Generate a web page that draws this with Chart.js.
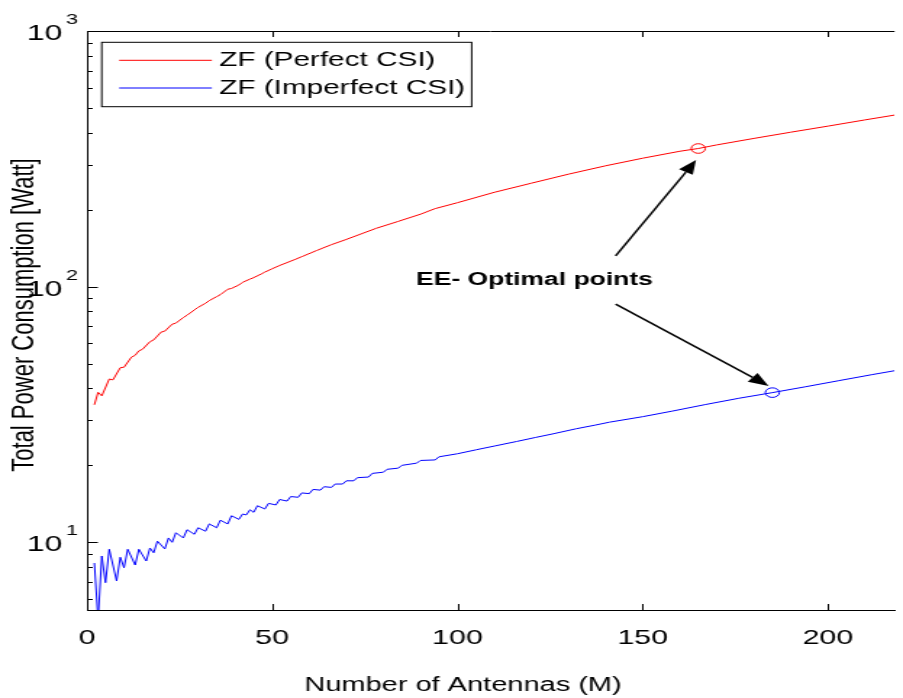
<!DOCTYPE html>
<html>
<head>
<meta charset="utf-8">
<title>Total Power Consumption vs Number of Antennas</title>
<script src="https://cdn.jsdelivr.net/npm/chart.js@4.4.1/dist/chart.umd.min.js"></script>
<style>
  html, body { margin: 0; padding: 0; background: #fff; }
</style>
</head>
<body>
<!-- la figure d'origine est étirée horizontalement : on dessine étroit puis on élargit via le style inline -->
<canvas id="graphe" width="623" height="698" style="display:block;width:903px;height:698px"></canvas>
<script>
// ---- DONNÉES ----
const antennesParfait = [2, 3, 4, 6, 7, 9, 10, 12, 13, 14, 15, 17, 18, 20, 21, 23, 24, 26, 27, 29, 30, 32, 33, 35, 36, 38, 39, 41, 42, 44, 45, 47, 48, 50, 52, 56, 58, 62, 66, 70, 78, 84, 90, 94, 100, 110, 120, 130, 140, 150, 160, 165, 170, 180, 190, 200, 210, 218]
const puissanceParfait = [34.5, 38.6, 37.4, 43.5, 43.2, 48.2, 48.4, 53.0, 53.9, 56.1, 56.9, 60.9, 61.9, 66.4, 67.0, 71.3, 72.0, 75.7, 77.3, 81.1, 83.0, 86.1, 88.2, 91.4, 93.0, 97.7, 98.4, 101.5, 104, 107, 108.5, 112, 114, 117.5, 121, 127.5, 131, 138.5, 146, 153, 169, 180, 192, 202, 213, 234, 254, 275.5, 297, 318, 338.5, 347, 358.5, 380, 402, 424.5, 449, 469]

const antennesImparfait = [2, 3, 4, 5, 6, 8, 9, 10, 11, 13, 14, 16, 17, 18, 19, 21, 22, 23, 24, 26, 27, 29, 30, 32, 33, 35, 36, 38, 39, 41, 42, 43, 44, 45, 46, 48, 49, 51, 52, 54, 55, 57, 58, 60, 61, 63, 64, 66, 67, 69, 70, 72, 73, 76, 77, 80, 81, 84, 85, 89, 90, 94, 95, 100, 105, 110, 116, 121, 126, 132, 137, 141, 150, 158, 167, 176, 185, 194, 203, 212, 218]
const puissanceImparfait = [8.3, 5.0, 8.84, 6.95, 9.39, 7.06, 8.74, 7.95, 9.39, 8.15, 9.39, 8.45, 9.5, 9.1, 10.1, 9.42, 10.4, 10.0, 10.9, 10.4, 11.2, 10.75, 11.4, 11.05, 11.8, 11.4, 12.2, 11.8, 12.7, 12.3, 12.9, 12.8, 13.4, 13.1, 13.9, 13.5, 14.2, 14.0, 14.7, 14.5, 15.1, 15.0, 15.6, 15.5, 16.1, 16.0, 16.5, 16.4, 16.9, 16.9, 17.4, 17.4, 17.9, 18.0, 18.6, 18.8, 19.3, 19.5, 20.0, 20.4, 20.9, 21.0, 21.6, 22.2, 23.0, 23.8, 24.8, 25.7, 26.6, 27.8, 28.7, 29.5, 31.0, 32.6, 34.6, 36.6, 38.5, 40.6, 42.9, 45.3, 46.9]

// points EE-optimaux (rouge puis bleu)
const antennesOptimales = [165, 185]
const puissancesOptimales = [347, 38.5]

const labelsSeries = ['ZF (Perfect CSI)', 'ZF (Imperfect CSI)']
const couleurs = ['#ff0000', '#0000ff']
const ticksX = [0, 50, 100, 150, 200]
const decadesY = [10, 100, 1000]
const titreX = 'Number of Antennas (M)'
const titreY = 'Total Power Consumption [Watt]'
const texteAnnotation = 'EE- Optimal points'

// flèches de l'annotation, en unités des axes
const fleches = [
  { de: [142.7, 132], vers: [164.4, 313] },
  { de: [142.7, 85.5], vers: [184, 40.9] }
]
const positionTexte = [120.8, 106]

const POLICE = '"Liberation Sans", Arial, Helvetica, sans-serif'

const points = (xs, ys) => xs.map((m, i) => ({ x: m, y: ys[i] }))

// ---- DESSINS FAÇON MATLAB (cadre, graduations, légende, annotation) ----
function dessinerFleche(ctx, x0, y0, x1, y1) {
  const ang = Math.atan2(y1 - y0, x1 - x0)
  const L = 14, W = 5.5
  const c = Math.cos(ang), s = Math.sin(ang)
  ctx.beginPath()
  ctx.moveTo(x0, y0)
  ctx.lineTo(x1 - L * c, y1 - L * s)
  ctx.stroke()
  ctx.beginPath()
  ctx.moveTo(x1, y1)
  ctx.lineTo(x1 - L * c + W * s, y1 - L * s - W * c)
  ctx.lineTo(x1 - L * c - W * s, y1 - L * s + W * c)
  ctx.closePath()
  ctx.fill()
}

const habillage = {
  id: 'habillage',
  afterDraw(chart) {
    const { ctx, chartArea: a, scales: { x, y } } = chart
    ctx.save()
    ctx.strokeStyle = '#000'
    ctx.fillStyle = '#000'
    ctx.lineWidth = 1

    // cadre du haut
    ctx.beginPath()
    ctx.moveTo(a.left, a.top + 0.5)
    ctx.lineTo(a.right, a.top + 0.5)
    ctx.stroke()

    // graduations x vers l'intérieur
    ticksX.forEach(v => {
      if (v === 0) return
      const px = Math.round(x.getPixelForValue(v)) + 0.5
      ctx.beginPath()
      ctx.moveTo(px, a.bottom); ctx.lineTo(px, a.bottom - 6)
      ctx.moveTo(px, a.top); ctx.lineTo(px, a.top + 6)
      ctx.stroke()
    })

    // graduations y (log) majeures et mineures
    const ymin = y.min, ymax = y.max
    decadesY.forEach(d => {
      for (let k = 1; k <= 9; k++) {
        const v = k * d / 10
        if (v < ymin || v > ymax) continue
        const py = Math.round(y.getPixelForValue(v)) + 0.5
        const long = k === 1 ? 7.5 : 4
        ctx.beginPath()
        ctx.moveTo(a.left, py); ctx.lineTo(a.left + long, py)
        ctx.stroke()
      }
    })

    // étiquettes y : 10^n
    decadesY.forEach(d => {
      const py = y.getPixelForValue(d)
      const exposant = String(Math.round(Math.log10(d)))
      ctx.font = '22px ' + POLICE
      ctx.textAlign = 'right'
      ctx.textBaseline = 'alphabetic'
      ctx.fillText('10', a.left - 17, py + 9)
      ctx.font = '15px ' + POLICE
      ctx.textAlign = 'left'
      ctx.fillText(exposant, a.left - 14.5, py - 7)
    })

    // titres des axes
    ctx.font = '20px ' + POLICE
    ctx.textAlign = 'center'
    ctx.textBaseline = 'alphabetic'
    ctx.fillText(titreX, x.getPixelForValue(101.5), 691)

    ctx.save()
    ctx.translate(16.6, 315)
    ctx.rotate(-Math.PI / 2)
    ctx.font = '22px ' + POLICE
    ctx.textBaseline = 'middle'
    ctx.fillText(titreY, 0, 0)
    ctx.restore()

    // légende
    const lx = a.left + 10.2, ly = a.top + 11.3
    ctx.lineWidth = 1
    ctx.strokeRect(lx, ly, 255.2, 64.4)
    ctx.font = '20.5px ' + POLICE
    ctx.textAlign = 'left'
    ctx.textBaseline = 'middle'
    labelsSeries.forEach((lab, i) => {
      const yy = ly + 18 + i * 27.7
      ctx.strokeStyle = couleurs[i]
      ctx.beginPath()
      ctx.moveTo(lx + 12, yy); ctx.lineTo(lx + 76, yy)
      ctx.stroke()
      ctx.fillStyle = '#000'
      ctx.fillText(lab, lx + 81, yy + 0.5)
    })

    // annotation EE-optimale
    ctx.strokeStyle = '#000'
    ctx.fillStyle = '#000'
    ctx.lineWidth = 1.5
    fleches.forEach(f => {
      dessinerFleche(ctx,
        x.getPixelForValue(f.de[0]), y.getPixelForValue(f.de[1]),
        x.getPixelForValue(f.vers[0]), y.getPixelForValue(f.vers[1]))
    })
    ctx.font = 'bold 18.3px ' + POLICE
    ctx.textAlign = 'center'
    ctx.textBaseline = 'middle'
    ctx.fillText(texteAnnotation, x.getPixelForValue(positionTexte[0]), y.getPixelForValue(positionTexte[1]))

    ctx.restore()
  }
}

new Chart(document.getElementById('graphe'), {
  type: 'line',
  data: {
    datasets: [
      {
        label: labelsSeries[0],
        data: points(antennesParfait, puissanceParfait),
        borderColor: couleurs[0],
        borderWidth: 1,
        pointRadius: 0,
        tension: 0
      },
      {
        label: labelsSeries[1],
        data: points(antennesImparfait, puissanceImparfait),
        borderColor: couleurs[1],
        borderWidth: 1,
        pointRadius: 0,
        tension: 0
      },
      {
        label: 'optimum',
        data: points(antennesOptimales, puissancesOptimales),
        showLine: false,
        pointStyle: 'circle',
        pointRadius: 4.8,
        pointBorderWidth: 1,
        pointBorderColor: couleurs,
        pointBackgroundColor: 'rgba(0,0,0,0)'
      }
    ]
  },
  options: {
    responsive: false,
    animation: false,
    devicePixelRatio: 1,
    layout: { padding: { top: 31, left: 0, right: 0, bottom: 0 } },
    plugins: { legend: { display: false }, tooltip: { enabled: false } },
    scales: {
      x: {
        type: 'linear',
        min: 0,
        max: 218,
        grid: { display: false },
        border: { display: true, color: '#000', width: 1 },
        afterBuildTicks: s => { s.ticks = ticksX.map(v => ({ value: v })) },
        afterFit: s => { s.height = 88 },
        ticks: {
          color: '#000',
          padding: 8,
          maxRotation: 0,
          font: { family: POLICE, size: 21 }
        }
      },
      y: {
        type: 'logarithmic',
        min: 5.435,
        max: 1000,
        grid: { display: false },
        border: { display: true, color: '#000', width: 1 },
        ticks: { display: false },
        afterFit: s => { s.width = 60 }
      }
    }
  },
  plugins: [habillage]
})
</script>
</body>
</html>
